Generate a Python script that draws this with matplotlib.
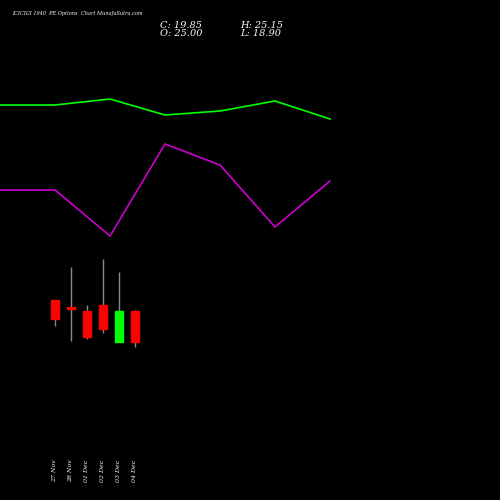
import matplotlib
matplotlib.use("Agg")
import matplotlib.pyplot as plt

dates = ["27 Nov", "28 Nov", "01 Dec", "02 Dec", "03 Dec", "04 Dec"]
opens = [300, 307, 311, 305, 342, 311]
closes = [319, 309, 337, 329, 311, 342]
highs = [300, 267, 305, 259, 272, 310]
lows = [326, 341, 339, 333, 342, 347]
green_line = [105, 105, 99, 115, 111, 101, 119]
magenta_line = [190, 190, 236, 144, 165, 227, 181]
line_x = [0, 55, 110, 165, 220, 275, 330]

fig = plt.figure(figsize=(5, 5), dpi=100, facecolor="black")
ax = fig.add_axes([0, 0, 1, 1])
ax.set_facecolor("black")
ax.set_xlim(0, 500)
ax.set_ylim(500, 0)
ax.axis("off")

ax.plot(line_x, green_line, color="#00ff00", lw=1.2)
ax.plot(line_x, magenta_line, color="#cc00cc", lw=1.2)

for i, (o, c, h, l) in enumerate(zip(opens, closes, highs, lows)):
    x = 55 + 16 * i
    ax.vlines(x, h, l, color="#888888", lw=1)
    col = "#00ff00" if c < o else "#ff0000"
    top, bot = min(o, c), max(o, c)
    ax.add_patch(plt.Rectangle((x - 4, top), 8, max(bot - top, 1.5), color=col, zorder=3))
    ax.text(x, 482, dates[i], rotation=90, color="white", fontsize=4.5,
            family="DejaVu Serif", ha="center", va="bottom", style="italic")

ax.text(12, 14, "ICICIGI 1940  PE Options  Chart MunafaSutra.com", color="white",
        fontsize=3.6, family="DejaVu Serif", style="italic", va="center")
ax.text(160, 25, "C: 19.85", color="white", fontsize=7, family="DejaVu Serif", style="italic", va="center")
ax.text(160, 34, "O: 25.00", color="white", fontsize=7, family="DejaVu Serif", style="italic", va="center")
ax.text(240, 25, "H: 25.15", color="white", fontsize=7, family="DejaVu Serif", style="italic", va="center")
ax.text(240, 34, "L: 18.90", color="white", fontsize=7, family="DejaVu Serif", style="italic", va="center")

fig.savefig("out.png", facecolor="black")
